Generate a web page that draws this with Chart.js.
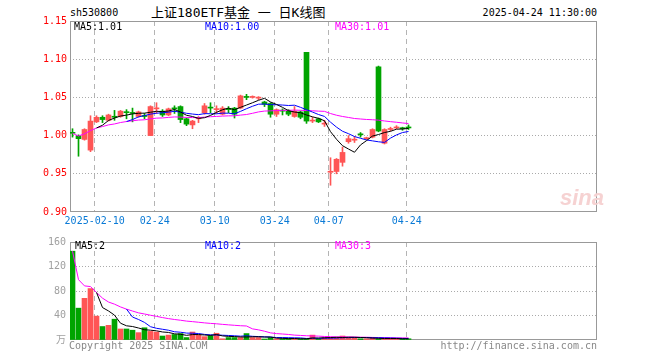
<!DOCTYPE html>
<html>
<head>
<meta charset="utf-8">
<script src="https://cdn.jsdelivr.net/npm/chart.js@4.4.1/dist/chart.umd.min.js"></script>
<style>
body{margin:0;width:660px;height:360px;background:#fff;position:relative;overflow:hidden;font-family:"DejaVu Sans Mono","Noto Sans CJK SC",monospace;font-size:10px}
canvas{position:absolute;left:0}
.t{position:absolute;white-space:nowrap;line-height:12px}
</style>
</head>
<body>
<div class="t" style="left:70px;top:7px">sh530800</div>
<div class="t" style="left:151px;top:5px;font-size:13px;line-height:16px;font-family:'DejaVu Sans Mono','Noto Sans CJK SC'">上证180ETF基金 一 日K线图</div>
<div class="t" style="right:63px;top:7px">2025-04-24 11:30:00</div>

<canvas id="price" width="660" height="232" style="top:0"></canvas>
<canvas id="vol" width="660" height="128" style="top:232px"></canvas>

<div class="t" style="left:74px;top:21px;color:#000">MA5:1.01</div>
<div class="t" style="left:205px;top:21px;color:#0000ff">MA10:1.00</div>
<div class="t" style="left:335px;top:21px;color:#ff00ff">MA30:1.01</div>
<div class="t" style="left:560px;top:186px;font:italic bold 22px 'Liberation Sans';line-height:24px;color:#f6d2d2">sina</div>

<div class="t" style="left:75px;top:240px;color:#000">MA5:2</div>
<div class="t" style="left:205px;top:240px;color:#0000ff">MA10:2</div>
<div class="t" style="left:335px;top:240px;color:#ff00ff">MA30:3</div>
<div class="t" style="left:69px;top:340px;color:#888">Copyright 2025 SINA.COM</div>
<div class="t" style="right:63px;top:340px;color:#888">http://finance.sina.com.cn</div>

<script>
const dates = ['2025-01-27','2025-02-05','2025-02-06','2025-02-07','2025-02-10','2025-02-11','2025-02-12','2025-02-13','2025-02-14',
  '2025-02-17','2025-02-18','2025-02-19','2025-02-20','2025-02-21','2025-02-24','2025-02-25','2025-02-26','2025-02-27','2025-02-28',
  '2025-03-03','2025-03-04','2025-03-05','2025-03-06','2025-03-07','2025-03-10','2025-03-11','2025-03-12','2025-03-13','2025-03-14',
  '2025-03-17','2025-03-18','2025-03-19','2025-03-20','2025-03-21','2025-03-24','2025-03-25','2025-03-26','2025-03-27','2025-03-28',
  '2025-03-31','2025-04-01','2025-04-02','2025-04-03','2025-04-07','2025-04-08','2025-04-09','2025-04-10','2025-04-11',
  '2025-04-14','2025-04-15','2025-04-16','2025-04-17','2025-04-18','2025-04-21','2025-04-22','2025-04-23','2025-04-24'];

const open = [1.004,1.000,0.995,0.981,1.018,1.024,1.020,1.025,1.025,1.031,1.030,1.025,1.026,1.000,1.035,1.032,1.027,1.036,1.038,1.022,
  1.014,1.022,1.030,1.037,1.034,1.028,1.035,1.036,1.036,1.051,1.050,1.049,1.044,1.042,1.028,1.033,1.032,1.025,1.031,1.109,
  1.019,1.022,1.015,0.952,0.953,0.965,0.992,0.994,1.002,0.996,0.998,1.090,0.990,1.008,1.010,1.010,1.011];
const close = [1.003,0.996,1.008,1.019,1.024,1.021,1.027,1.024,1.032,1.030,1.029,1.031,1.025,1.038,1.036,1.027,1.035,1.035,1.021,1.015,
  1.019,1.023,1.039,1.036,1.035,1.036,1.034,1.028,1.052,1.050,1.051,1.050,1.041,1.028,1.034,1.032,1.028,1.032,1.024,1.019,
  1.020,1.018,1.016,0.953,0.969,0.978,0.996,0.995,1.001,0.997,1.008,1.006,1.008,1.009,1.011,1.009,1.010];
const high = [1.009,1.001,1.009,1.026,1.026,1.026,1.028,1.033,1.033,1.034,1.036,1.032,1.029,1.039,1.043,1.034,1.036,1.039,1.039,1.023,
  1.020,1.025,1.042,1.043,1.039,1.038,1.038,1.037,1.053,1.054,1.052,1.051,1.045,1.043,1.035,1.035,1.034,1.038,1.032,1.109,
  1.024,1.023,1.020,0.971,0.970,0.985,1.000,0.999,1.004,0.998,1.009,1.091,1.009,1.011,1.013,1.011,1.014];
const low = [0.998,0.973,0.994,0.979,1.017,1.017,1.019,1.020,1.024,1.022,1.018,1.024,1.022,1.000,1.029,1.025,1.026,1.029,1.017,1.013,
  1.009,1.017,1.028,1.030,1.029,1.027,1.030,1.023,1.035,1.047,1.049,1.047,1.038,1.024,1.025,1.027,1.026,1.024,1.022,1.016,
  1.017,1.017,1.012,0.935,0.950,0.960,0.990,0.991,0.998,0.995,0.997,1.005,0.989,1.006,1.009,1.007,1.008];
// volume in 万
const volume = [145,52,68,84,39,22,24,34,18,18,16,12,20,14,13,6.5,8,9,10.5,4,13,8,5.5,7,11,2,4,4,4,10.5,
  4,4,1.5,4,2,2,2,2,2,2,8,2,4,4,4,6.5,4,4,2,2,4,2,2,2,2,2,2];

const tickDates = ['2025-02-10','2025-02-24','2025-03-10','2025-03-24','2025-04-07','2025-04-24'];
const priceTicks = [0.90,0.95,1.00,1.05,1.10,1.15];
const volTicks = [0,40,80,120,160];

const UP = '#ff5555', DOWN = '#00a400';
const colors = close.map((c, i) => c >= open[i] ? UP : DOWN);

// moving average; MA30 on this chart averages whatever days exist at the start
function ma(arr, n, fromStart) {
  return arr.map((_, i) => {
    if (i < n - 1 && !fromStart) return null;
    const seg = arr.slice(Math.max(0, i - n + 1), i + 1);
    return seg.reduce((a, b) => a + b, 0) / seg.length;
  });
}
const pts = arr => arr.map((v, i) => ({x: i, y: v}));

const X0 = -2.5 / 6, X1 = X0 + 527 / 6;
const tickIdx = tickDates.map(d => dates.indexOf(d));
const FONT = {family: "'DejaVu Sans Mono','Noto Sans CJK SC'", size: 10};

const boxPlugin = {
  id: 'box',
  beforeDatasetsDraw(c) {
    const a = c.chartArea, g = c.ctx;
    g.save();
    g.strokeStyle = '#999';
    g.lineWidth = 1;
    g.strokeRect(a.left + 0.5, a.top + 0.5, a.width - 1, a.height - 1);
    g.restore();
  }
};

function xScale(showLabels) {
  return {
    type: 'linear', min: X0, max: X1, offset: false,
    afterBuildTicks: s => { s.ticks = tickIdx.map(i => ({value: i - 0.3})); },
    afterFit: s => { s.height = 20; },
    ticks: {
      display: showLabels, autoSkip: false, maxRotation: 0, padding: 3,
      color: '#0a7ad6', font: FONT,
      callback: (v, k) => k === 0 ? tickDates[0] : tickDates[k].slice(5)
    },
    grid: {color: '#b4b4b4', drawTicks: false, offset: false},
    border: {display: false, dash: [5, 4]}
  };
}

function line(data, color) {
  return {type: 'line', data: data, borderColor: color, borderWidth: 1, pointRadius: 0, tension: 0, fill: false};
}

new Chart(document.getElementById('price'), {
  type: 'bar',
  data: {
    datasets: [
      line(pts(ma(close, 5)), '#000'),
      line(pts(ma(close, 10)), '#0000ff'),
      line(pts(ma(close, 30, true)), '#ff00ff'),
      {data: open.map((o, i) => ({x: i, y: [o, close[i]]})), backgroundColor: colors,
        barThickness: 5, minBarLength: 1, grouped: false},
      {data: low.map((l, i) => ({x: i, y: [l, high[i]]})), backgroundColor: colors,
        barThickness: 1, grouped: false}
    ]
  },
  options: {
    responsive: false, animation: false, devicePixelRatio: 1,
    layout: {padding: {top: 21, right: 63, left: 0, bottom: 0}},
    plugins: {legend: {display: false}, tooltip: {enabled: false}},
    scales: {
      x: xScale(true),
      y: {
        min: 0.9, max: 1.15,
        afterBuildTicks: s => { s.ticks = priceTicks.map(v => ({value: v})); },
        afterFit: s => { s.width = 70; },
        ticks: {color: '#ff0000', font: FONT, padding: 3, callback: v => v.toFixed(2)},
        grid: {drawTicks: false,
          color: c => (c.tick && (c.tick.value < 0.901 || c.tick.value > 1.149)) ? 'rgba(0,0,0,0)' : '#aaa'},
        border: {display: false, dash: [1, 2]}
      }
    }
  },
  plugins: [boxPlugin]
});

new Chart(document.getElementById('vol'), {
  type: 'bar',
  data: {
    datasets: [
      line(pts(ma(volume, 5)), '#000'),
      line(pts(ma(volume, 10)), '#0000ff'),
      line(pts(ma(volume, 30, true)), '#ff00ff'),
      {data: volume.map((v, i) => ({x: i, y: v})), backgroundColor: colors,
        barThickness: 5, minBarLength: 1, grouped: false}
    ]
  },
  options: {
    responsive: false, animation: false, devicePixelRatio: 1,
    layout: {padding: {top: 8, right: 63, left: 0, bottom: 0}},
    plugins: {legend: {display: false}, tooltip: {enabled: false}},
    scales: {
      x: xScale(false),
      y: {
        min: 0, max: 160,
        afterBuildTicks: s => { s.ticks = volTicks.map(v => ({value: v})); },
        afterFit: s => { s.width = 70; },
        ticks: {color: '#a0a0a0', font: FONT, padding: 4, callback: v => v === 0 ? '万' : v},
        grid: {drawTicks: false,
          color: c => (c.tick && (c.tick.value === 0 || c.tick.value === 160)) ? 'rgba(0,0,0,0)' : '#aaa'},
        border: {display: false, dash: [1, 2]}
      }
    }
  },
  plugins: [boxPlugin]
});
</script>
</body>
</html>
